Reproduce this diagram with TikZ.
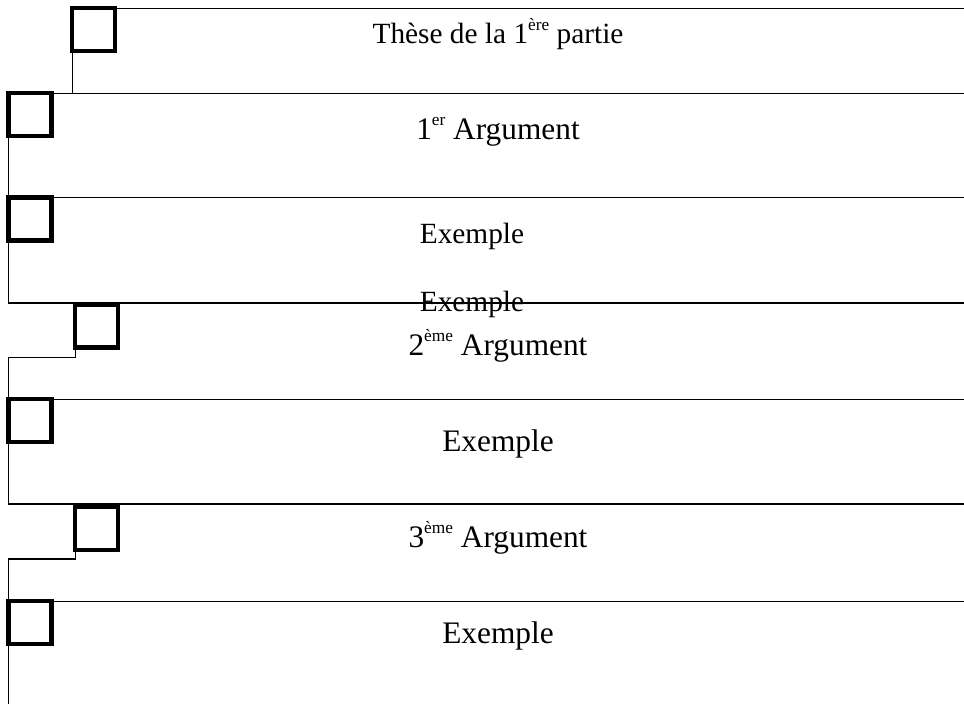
\documentclass[tikz,border=0pt]{standalone}
\usepackage{fontspec}
\setmainfont{Liberation Serif}
\newcommand{\bigtxt}{\fontsize{23.5}{28}\selectfont}
\newcommand{\smalltxt}{\fontsize{22}{26}\selectfont}
\newcommand{\expo}[1]{\raisebox{.42em}{\fontsize{13}{14}\selectfont #1}}

\begin{document}
\begin{tikzpicture}[x=.75pt,y=-.75pt,
  tick/.style={draw,line width=3.4pt,minimum size=32pt,inner sep=0pt,outer sep=0pt},
  rule/.style={line width=1pt},
  lab/.style={anchor=base,inner sep=0pt}]
  \useasboundingbox (0,0) rectangle (964,704);
  \coordinate (edge) at (964,0);

  % boxes
  \node[tick] (b1) at (93.5,29.5) {};
  \node[tick] (b2) at (30,114.5) {};
  \node[tick] (b3) at (30,219) {};
  \node[tick] (b4) at (96.5,326) {};
  \node[tick] (b5) at (30,420.5) {};
  \node[tick] (b6) at (96.5,528.5) {};
  \node[tick] (b7) at (30,622.5) {};

  \coordinate (c1) at (b3.south west |- 0,303);
  \coordinate (c2) at (b5.south west |- 0,504);
  \coordinate (c3) at (b7.south west |- 0,704);

  % rules
  \draw[rule] (b1.north east) -- (b1.north east -| edge);
  \draw[rule] (b1.south west) -- (b1.south west |- b2.north);
  \draw[rule] (b2.north east) -- (b2.north east -| edge);
  \draw[rule] (b2.south west) -- (b3.north west);
  \draw[rule] (b3.north east) -- (b3.north east -| edge);
  \draw[rule] (b3.south west) -- (c1) -- (c1 -| edge);
  \draw[rule] (b4.south west) -- ++(0,10) -| (b5.north west);
  \draw[rule] (b5.north east) -- (b5.north east -| edge);
  \draw[rule] (b5.south west) -- (c2) -- (c2 -| edge);
  \draw[rule] (b6.south west) -- ++(0,9) -| (b7.north west);
  \draw[rule] (b7.north east) -- (b7.north east -| edge);
  \draw[rule] (b7.south west) -- (c3);

  % texts
  \node[lab] (t1) at (498,43) {\smalltxt Thèse de la 1\expo{ère} partie};
  \node[lab] (t2) at (498,139) {\bigtxt 1\expo{er} Argument};
  \node[lab] (t3) at (472,243) {\smalltxt Exemple};
  \node[lab] (t4) at (472,311) {\smalltxt Exemple};
  \node[lab] (t5) at (498,355) {\bigtxt 2\expo{ème} Argument};
  \node[lab] (t6) at (498,451) {\bigtxt Exemple};
  \node[lab] (t7) at (498,547) {\bigtxt 3\expo{ème} Argument};
  \node[lab] (t8) at (498,643) {\bigtxt Exemple};
\end{tikzpicture}
\end{document}
